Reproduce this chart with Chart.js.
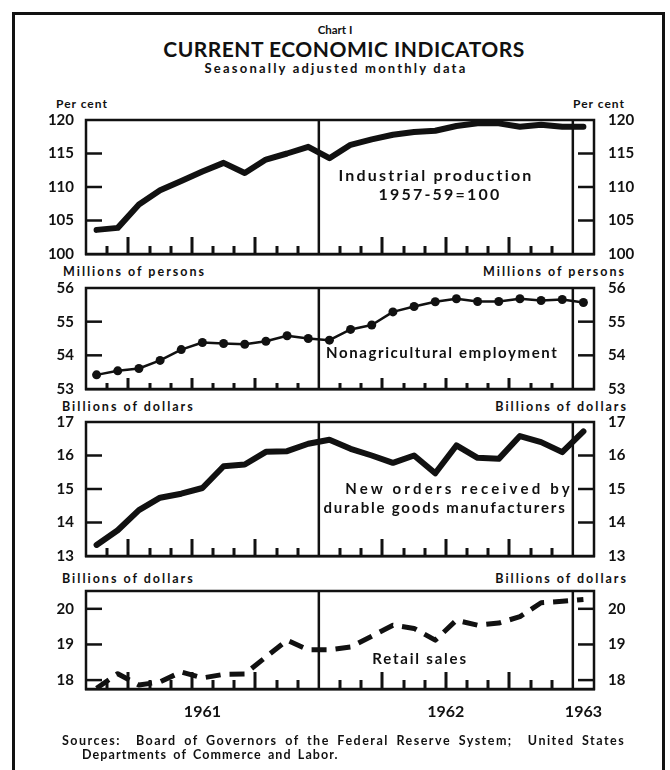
<!DOCTYPE html>
<html>
<head>
<meta charset="utf-8">
<script src="https://cdn.jsdelivr.net/npm/chart.js@4"></script>
<style>
  body { margin: 0; background: #fff; }
  #page { position: relative; width: 670px; height: 770px; overflow: hidden;
          font-family: Lato, "DejaVu Sans", sans-serif; font-weight: bold; color: #111; }
  .frame { position: absolute; left: 12px; top: 12px; width: 647px; height: 800px;
           border: 3px solid #111; border-bottom: none; }
  .t { position: absolute; white-space: nowrap; line-height: 1; }
  .c { transform: translateX(-50%); text-align: center; }
  .r { transform: translateX(-100%); }
  .unit { font-size: 12.5px; letter-spacing: 2px; }
  .note { font-size: 16px; letter-spacing: 2.2px; }
  canvas { position: absolute; left: 0; }
</style>
</head>
<body>
<div id="page">
  <div class="frame"></div>
  <div class="t c" style="left:335px; top:24px; font-size:11.5px;">Chart I</div>
  <div class="t c" style="left:344px; top:38px; font-size:21px; letter-spacing:0.5px;">CURRENT ECONOMIC INDICATORS</div>
  <div class="t c" style="left:336px; top:62px; font-size:13px; letter-spacing:2.2px;">Seasonally adjusted monthly data</div>

  <div class="t unit" style="left:56px; top:98px; letter-spacing:1px; font-size:12px;">Per cent</div>
  <div class="t unit r" style="left:625px; top:98px; letter-spacing:1px; font-size:12px;">Per cent</div>
  <div class="t unit" style="left:63px; top:266px;">Millions of persons</div>
  <div class="t unit r" style="left:626px; top:266px;">Millions of persons</div>
  <div class="t unit" style="left:62px; top:401px;">Billions of dollars</div>
  <div class="t unit r" style="left:628px; top:401px;">Billions of dollars</div>
  <div class="t unit" style="left:62px; top:573px;">Billions of dollars</div>
  <div class="t unit r" style="left:628px; top:573px;">Billions of dollars</div>

  <canvas id="c1"></canvas>
  <canvas id="c2"></canvas>
  <canvas id="c3"></canvas>
  <canvas id="c4"></canvas>

  <div class="t c note" style="left:436px; top:167px;">Industrial production</div>
  <div class="t c note" style="left:440px; top:186px;">1957-59=100</div>
  <div class="t note" style="left:326px; top:345px; letter-spacing:1.6px; font-size:15px;">Nonagricultural employment</div>
  <div class="t c note" style="left:459px; top:481px; letter-spacing:3.2px; font-size:15px;">New orders received by</div>
  <div class="t c note" style="left:445px; top:500px; letter-spacing:1.8px; font-size:15px;">durable goods manufacturers</div>
  <div class="t c note" style="left:420px; top:651px; letter-spacing:1.8px; font-size:15px;">Retail sales</div>

  <div class="t" style="left:62px; top:735px; font-size:12.5px; letter-spacing:1.5px; word-spacing:3px;">Sources:&nbsp; Board of Governors of the Federal Reserve System;&nbsp; United States</div>
  <div class="t" style="left:82px; top:749px; font-size:12.5px; letter-spacing:1.1px; word-spacing:2px;">Departments of Commerce and Labor.</div>
</div>
<script>
// Months Feb 1961 .. Jan 1963
const months = ['Feb 1961','Mar 1961','Apr 1961','May 1961','Jun 1961','Jul 1961','Aug 1961',
  'Sep 1961','Oct 1961','Nov 1961','Dec 1961','Jan 1962','Feb 1962','Mar 1962','Apr 1962',
  'May 1962','Jun 1962','Jul 1962','Aug 1962','Sep 1962','Oct 1962','Nov 1962','Dec 1962','Jan 1963'];
const years = ['1961', '1962', '1963'];

// Industrial production, 1957-59=100
const industrial = [103.6, 103.9, 107.4, 109.5, 110.9, 112.3, 113.6, 112.1, 114.1, 115.0, 116.0, 114.3,
  116.3, 117.1, 117.8, 118.2, 118.4, 119.1, 119.5, 119.5, 119.0, 119.3, 119.0, 119.0];
const industrialTicks = [100, 105, 110, 115, 120];
// Nonagricultural employment, millions of persons
const employment = [53.42, 53.54, 53.61, 53.85, 54.17, 54.38, 54.35, 54.33, 54.42, 54.58, 54.50, 54.45,
  54.77, 54.90, 55.29, 55.45, 55.59, 55.68, 55.60, 55.60, 55.68, 55.63, 55.66, 55.57];
const employmentTicks = [53, 54, 55, 56];
// New orders, durable goods, billions of dollars
const newOrders = [13.33, 13.77, 14.37, 14.74, 14.86, 15.03, 15.68, 15.73, 16.11, 16.13, 16.35, 16.47,
  16.20, 16.00, 15.78, 16.00, 15.47, 16.30, 15.93, 15.90, 16.58, 16.40, 16.10, 16.72];
const newOrdersTicks = [13, 14, 15, 16, 17];
// Retail sales, billions of dollars
const retail = [17.77, 18.18, 17.86, 17.95, 18.23, 18.06, 18.16, 18.17, 18.65, 19.12, 18.85, 18.85,
  18.93, 19.23, 19.54, 19.45, 19.12, 19.68, 19.54, 19.60, 19.78, 20.17, 20.21, 20.26];
const retailTicks = [18, 19, 20];

const ink = '#111';
const tickFont = { family: 'Lato', size: 15, weight: 'bold' };

function line(ctx, x1, y1, x2, y2) {
  ctx.beginPath(); ctx.moveTo(x1, y1); ctx.lineTo(x2, y2); ctx.stroke();
}

// year lines and frame under the data, month ticks over it
function makeDecor(big, small, withYears) {
  const edgeFn = x => {
    const half = (x.getPixelForValue(1) - x.getPixelForValue(0)) / 2;
    return i => x.getPixelForValue(i) - half;
  };
  return {
    id: 'decor',
    beforeDatasetsDraw(chart) {
      const { ctx, chartArea: a, scales } = chart;
      const y = scales.y, edge = edgeFn(scales.x);
      ctx.save();
      ctx.setLineDash([]);
      ctx.strokeStyle = ink;
      ctx.lineWidth = 2.5;
      months.forEach((m, i) => { if (i > 0 && m.startsWith('Jan')) line(ctx, edge(i), a.top, edge(i), a.bottom); });
      y.ticks.forEach(t => {
        if (t.value <= y.min || t.value >= y.max) return;
        const py = y.getPixelForValue(t.value);
        line(ctx, a.left, py, a.left + 16, py);
        line(ctx, a.right - 16, py, a.right, py);
      });
      ctx.strokeRect(a.left, a.top, a.width, a.height);
      if (withYears) {
        const jan = [];
        months.forEach((m, i) => { if (m.startsWith('Jan')) jan.push(edge(i)); });
        const bounds = [a.left, ...jan, a.right];
        ctx.fillStyle = ink;
        ctx.font = 'bold 16px Lato';
        ctx.textAlign = 'center';
        ctx.textBaseline = 'middle';
        years.forEach((yr, k) => ctx.fillText(yr, (bounds[k] + bounds[k + 1]) / 2, a.bottom + 23));
      }
      ctx.restore();
    },
    afterDatasetsDraw(chart) {
      const { ctx, chartArea: a, scales } = chart;
      const edge = edgeFn(scales.x);
      ctx.save();
      ctx.fillStyle = ink;
      for (let i = 1; i < months.length; i++) {
        const m = months[i].slice(0, 3);
        if (m === 'Jan') continue;
        const h = (m === 'Apr' || m === 'Jul' || m === 'Oct') ? big : small;
        ctx.fillRect(Math.round(edge(i)) - 1.5, a.bottom - h, 3, h + 1);
      }
      ctx.fillRect(a.left - 1, a.bottom - 1, a.width + 2, 2.5);
      ctx.restore();
    }
  };
}

function panel(id, top, bottom, min, max, tickVals, dataset, big, small, withYears) {
  const pad = 12;
  const extra = withYears ? 36 : 0;
  const cv = document.getElementById(id);
  cv.width = 670;
  cv.height = bottom - top + pad * 2 + extra;
  cv.style.top = (top - pad) + 'px';
  const yAxis = (pos, w, padding) => ({
    position: pos, min: min, max: max,
    grid: { display: false }, border: { display: false },
    ticks: { padding: padding, color: ink, font: tickFont },
    afterBuildTicks: s => { s.ticks = tickVals.map(v => ({ value: v })); },
    afterFit: s => { s.width = w; }
  });
  new Chart(cv, {
    type: 'line',
    data: { labels: months, datasets: [dataset] },
    options: {
      responsive: false, animation: false,
      layout: { padding: { top: pad, bottom: pad + extra, left: 0, right: 0 } },
      plugins: { legend: { display: false }, tooltip: { enabled: false } },
      scales: {
        x: { type: 'category', display: false, offset: true },
        y: yAxis('left', 86, 4),
        y2: yAxis('right', 76, 6)
      }
    },
    plugins: [makeDecor(big, small, withYears)]
  });
}

const base = { borderColor: ink, backgroundColor: ink, tension: 0, fill: false,
  borderJoinStyle: 'round', pointRadius: 0 };

panel('c1', 117, 257, 100, 120, industrialTicks,
  Object.assign({}, base, { data: industrial, borderWidth: 6, borderCapStyle: 'round' }), 17, 8, false);
panel('c2', 285, 392, 53, 56, employmentTicks,
  Object.assign({}, base, { data: employment, borderWidth: 2.5, pointRadius: 4.5, pointBorderWidth: 0 }), 11, 6, false);
panel('c3', 419, 559, 13, 17, newOrdersTicks,
  Object.assign({}, base, { data: newOrders, borderWidth: 6, borderCapStyle: 'round' }), 17, 8, false);
panel('c4', 588, 689, 17.75, 20.5, retailTicks,
  Object.assign({}, base, { data: retail, borderWidth: 5, borderDash: [15, 9], borderCapStyle: 'butt' }), 17, 9, true);
</script>
</body>
</html>
